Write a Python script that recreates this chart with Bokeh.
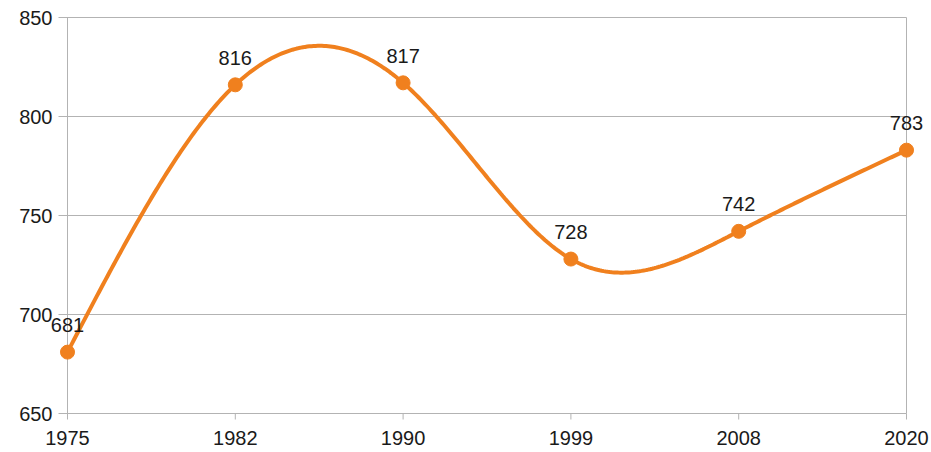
import numpy as np
from bokeh.plotting import figure
from bokeh.models import Range1d, ColumnDataSource, LabelSet
from bokeh.core.properties import value
from bokeh.embed import file_html
from bokeh.resources import INLINE

# ---- data ----
years = ["1975", "1982", "1990", "1999", "2008", "2020"]
values = [681, 816, 817, 728, 742, 783]
y_ticks = [650, 700, 750, 800, 850]

ORANGE = "#f0801e"
GRID = "#b3b3b3"
TEXT = "#1a1a1a"
FONT = "Liberation Sans"

x = np.arange(len(years), dtype=float)
y = np.array(values, dtype=float)


def natural_spline(xp, yp, n=400):
    """Natural cubic spline through the data points (rendering of the smooth line)."""
    k = len(xp)
    h = np.diff(xp)
    A = np.zeros((k, k))
    b = np.zeros(k)
    A[0, 0] = 1
    A[-1, -1] = 1
    for i in range(1, k - 1):
        A[i, i - 1] = h[i - 1]
        A[i, i] = 2 * (h[i - 1] + h[i])
        A[i, i + 1] = h[i]
        b[i] = 6 * ((yp[i + 1] - yp[i]) / h[i] - (yp[i] - yp[i - 1]) / h[i - 1])
    M = np.linalg.solve(A, b)
    xs = np.linspace(xp[0], xp[-1], n)
    idx = np.clip(np.searchsorted(xp, xs) - 1, 0, k - 2)
    x0 = xp[idx]
    x1 = xp[idx + 1]
    hh = x1 - x0
    t0 = x1 - xs
    t1 = xs - x0
    ys = (M[idx] * t0 ** 3 / (6 * hh) + M[idx + 1] * t1 ** 3 / (6 * hh)
          + (yp[idx] / hh - M[idx] * hh / 6) * t0
          + (yp[idx + 1] / hh - M[idx + 1] * hh / 6) * t1)
    return xs, ys


xs, ys = natural_spline(x, y)

# ---- layout (pixels) ----
W, H = 931, 452
PL, PR = 67, 906      # pixel x of first / last category
PT, PB = 17, 413      # pixel y of top / bottom tick value
n = len(years)
ymin, ymax = y_ticks[0], y_ticks[-1]
sx = (PR - PL) / (n - 1)          # px per category
sy = (PB - PT) / (ymax - ymin)    # px per value unit

x_range = Range1d(-PL / sx, (n - 1) + (W - PR) / sx)
y_range = Range1d(ymin - (H - PB) / sy, ymax + PT / sy)

p = figure(width=W, height=H, output_backend="svg", toolbar_location=None,
           x_range=x_range, y_range=y_range, x_axis_type=None, y_axis_type=None,
           min_border=0)
p.outline_line_color = None
p.grid.visible = False
p.background_fill_color = "white"
p.border_fill_color = "white"

tick_len_x = 9 / sx
tick_len_y = 6 / sy

# horizontal grid lines, starting with small tick marks left of the axis
p.segment(x0=[-tick_len_x] * len(y_ticks), y0=y_ticks, x1=[n - 1] * len(y_ticks), y1=y_ticks,
          line_color=GRID, line_width=1)
# left axis line and right border line
p.segment(x0=[0, n - 1], y0=[ymin, ymin], x1=[0, n - 1], y1=[ymax, ymax],
          line_color=GRID, line_width=1)
# x tick marks below the axis
p.segment(x0=x, y0=[ymin] * n, x1=x, y1=[ymin - tick_len_y] * n,
          line_color=GRID, line_width=1)

# smooth line + points
p.line(xs, ys, line_color=ORANGE, line_width=4)
src = ColumnDataSource(dict(x=x, y=y, lab=[str(v) for v in values]))
p.scatter("x", "y", source=src, size=14, fill_color=ORANGE, line_color=ORANGE)

p.add_layout(LabelSet(x="x", y="y", text="lab", source=src, text_align="center",
                      text_baseline="alphabetic", y_offset=20, text_font_size=value("20px"),
                      text_color=value(TEXT), text_font=value(FONT)))

# y tick labels
ysrc = ColumnDataSource(dict(x=[0.0] * len(y_ticks), y=y_ticks, lab=[str(t) for t in y_ticks]))
p.add_layout(LabelSet(x="x", y="y", text="lab", source=ysrc, text_align="right",
                      text_baseline="middle", x_offset=-15, text_font_size=value("20px"),
                      text_color=value(TEXT), text_font=value(FONT)))

# x tick labels
xsrc = ColumnDataSource(dict(x=x, y=[ymin] * n, lab=years))
p.add_layout(LabelSet(x="x", y="y", text="lab", source=xsrc, text_align="center",
                      text_baseline="top", y_offset=-17, text_font_size=value("20px"),
                      text_color=value(TEXT), text_font=value(FONT)))

open("out.html", "w").write(file_html(p, INLINE))
